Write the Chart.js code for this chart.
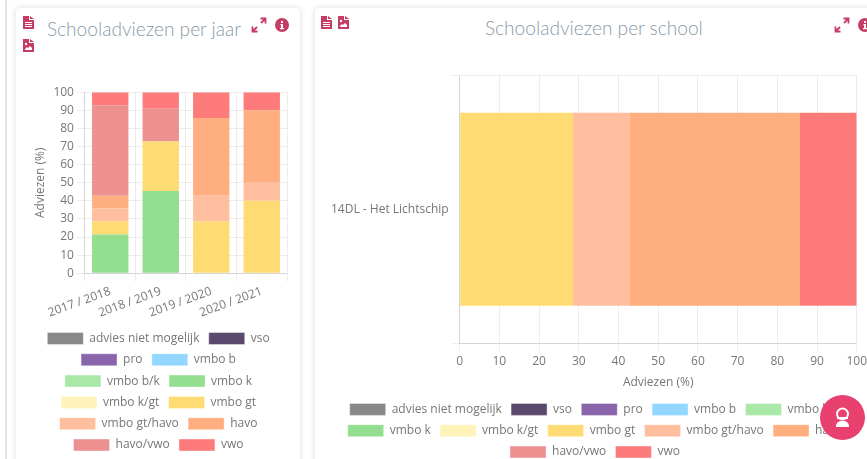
<!DOCTYPE html>
<html><head><meta charset="utf-8">
<script src="https://cdn.jsdelivr.net/npm/chart.js@4"></script>
<style>
html,body{margin:0;padding:0;background:#fff;width:867px;height:459px;overflow:hidden;font-family:"Open Sans",sans-serif}
.card{position:absolute;top:8px;height:470px;background:#fff;border-radius:4px;box-shadow:0 0 6px rgba(0,0,0,.14)}
.strip{position:absolute;left:5px;top:0;width:2px;height:459px;background:#e4e4e4}
.title{position:absolute;font-family:Lato,"Open Sans",sans-serif;font-weight:300;color:#879aa6;font-size:19.1px;white-space:nowrap}
.cv{position:absolute}
svg.ic{position:absolute;fill:#c53d64}
svg.ex{fill:none;stroke:#c53d64;stroke-width:1.8}
.fab{position:absolute;left:820px;top:395px;width:45px;height:45px;border-radius:50%;background:#e8416f}
</style></head><body>
<div class="strip"></div>
<div class="card" style="left:16px;width:284px"></div>
<div class="card" style="left:315px;width:600px"></div>
<div class="title" style="left:47px;top:17px">Schooladviezen per jaar</div>
<div class="title" style="left:485px;top:16px">Schooladviezen per school</div>
<div class="cv" style="left:30px;top:82px;width:261px;height:379px"><canvas id="c1"></canvas></div>
<div class="cv" style="left:328px;top:65px;width:542px;height:403px"><canvas id="c2"></canvas></div>

<svg class="ic" style="left:23px;top:15px" width="11" height="14" viewBox="0 0 11 14"><path d="M0 1h6v4h5v9H0z"/><path d="M7 1l4 3H7z"/><path fill="#fff" d="M2 7h7v1H2zM2 9h7v1H2zM2 11h7v1H2z"/></svg>
<svg class="ic" style="left:23px;top:38px" width="11" height="14" viewBox="0 0 11 14"><path d="M0 1h6v4h5v9H0z"/><path d="M7 1l4 3H7z"/><circle cx="3" cy="6" r="1.2" fill="#fff"/><path fill="#fff" d="M2 11l2-2 1 1 2-2 2 2v2H2z"/></svg>
<svg class="ic" style="left:321px;top:15px" width="11" height="14" viewBox="0 0 11 14"><path d="M0 1h6v4h5v9H0z"/><path d="M7 1l4 3H7z"/><path fill="#fff" d="M2 7h7v1H2zM2 9h7v1H2zM2 11h7v1H2z"/></svg>
<svg class="ic" style="left:338px;top:15px" width="11" height="14" viewBox="0 0 11 14"><path d="M0 1h6v4h5v9H0z"/><path d="M7 1l4 3H7z"/><circle cx="3" cy="6" r="1.2" fill="#fff"/><path fill="#fff" d="M2 11l2-2 1 1 2-2 2 2v2H2z"/></svg>
<svg class="ic ex" style="left:251px;top:17px" width="16" height="16" viewBox="0 0 16 16"><path d="M9.500 1.500H14.500V6.500M14.500 1.500L10 6M6.500 14.500H1.500V9.500M1.500 14.500L6 10"/></svg>
<svg class="ic ex" style="left:834px;top:17px" width="16" height="16" viewBox="0 0 16 16"><path d="M9.500 1.500H14.500V6.500M14.500 1.500L10 6M6.500 14.500H1.500V9.500M1.500 14.500L6 10"/></svg>
<svg class="ic" style="left:275px;top:18px" width="14" height="14" viewBox="0 0 14 14"><circle cx="7" cy="7" r="7"/><path fill="#fff" d="M6 3h2v2H6zM5.500 6H8v4h1v1.200H5V10h1V7.200h-.5z"/></svg>
<svg class="ic" style="left:858px;top:18px" width="14" height="14" viewBox="0 0 14 14"><circle cx="7" cy="7" r="7"/><path fill="#fff" d="M6 3h2v2H6zM5.500 6H8v4h1v1.200H5V10h1V7.200h-.5z"/></svg>
<div class="fab"><svg width="45" height="45" viewBox="0 0 45 45" style="position:absolute;left:0;top:0"><circle cx="22.5" cy="19" r="5.5" fill="none" stroke="#fff" stroke-width="2"/><path d="M17 22h11v2H17z" fill="#fff"/><path d="M16 32c0-5 3-6 6.500-6s6.500 1 6.500 6z" fill="#fff"/></svg></div>

<script>
const seriesNames = ["advies niet mogelijk","vso","pro","vmbo b","vmbo b/k","vmbo k","vmbo k/gt","vmbo gt","vmbo gt/havo","havo","havo/vwo","vwo"];
const seriesColors = ["rgb(136,136,136)","rgb(91,73,110)","rgb(138,100,170)","rgb(145,215,255)","rgb(170,232,168)","rgb(147,222,143)","rgb(255,243,185)","rgb(255,220,115)","rgb(255,190,158)","rgb(255,174,127)","rgb(236,144,144)","rgb(254,123,123)"];
const years = ["2017 / 2018","2018 / 2019","2019 / 2020","2020 / 2021"];
const yearValues = [
  [0,0,0,0],[0,0,0,0],[0,0,0,0],[0,0,0,0],[0,0,0,0],
  [21.43,45.45,0,0],
  [0,0,0,0],
  [7.14,27.27,28.57,40],
  [7.14,0,14.29,10],
  [7.14,0,42.86,40],
  [50,18.18,0,0],
  [7.15,9.10,14.28,10]
];
const schools = ["14DL - Het Lichtschip"];
const schoolValues = [0,0,0,0,0,0,0,28.57,14.29,42.86,0,14.28];

const tickColor = "#777", gridColor = "rgba(0,0,0,0.07)";
const font = {family:'"Open Sans",sans-serif', size:12};
Chart.defaults.font = font;
Chart.defaults.color = tickColor;
Chart.defaults.animation = false;

function ds(valuesFor){
  return seriesNames.map((n,i)=>({
    label:n, data:valuesFor(i), backgroundColor:seriesColors[i], borderWidth:0
  }));
}
function legendOpts(){
  return {position:"bottom", labels:{boxWidth:36, boxHeight:12, padding:9.3, color:tickColor, font:font,
    generateLabels:c=>Chart.defaults.plugins.legend.labels.generateLabels(c).map(l=>Object.assign(l,{lineWidth:1,strokeStyle:"rgba(255,255,255,0.4)"}))}};
}
function opts(extra){ return Object.assign({responsive:true, maintainAspectRatio:false, animation:false, plugins:{legend:legendOpts(), tooltip:{enabled:false}}}, extra); }

new Chart(document.getElementById("c1"),{
  type:"bar",
  data:{labels:years, datasets:ds(i=>yearValues[i])},
  options:opts({
    scales:{
      x:{stacked:true, grid:{color:gridColor}, ticks:{autoSkip:false,minRotation:20,maxRotation:20,color:tickColor,font:font,padding:3}},
      y:{stacked:true, min:0, max:100, ticks:{stepSize:10,color:tickColor,font:font},
         grid:{color:gridColor}, title:{display:true,text:"Adviezen (%)",color:tickColor,font:font,padding:{top:3,bottom:3}}}
    },
    layout:{padding:{top:3,right:4}}
  })
});
new Chart(document.getElementById("c2"),{
  type:"bar",
  data:{labels:schools, datasets:ds(i=>[schoolValues[i]])},
  options:opts({
    indexAxis:"y",
    scales:{
      x:{stacked:true, min:0, max:100, ticks:{stepSize:10,color:tickColor,font:font},
         grid:{color:gridColor}, title:{display:true,text:"Adviezen (%)",color:tickColor,font:font}},
      y:{stacked:true, grid:{color:gridColor}, ticks:{color:tickColor,font:font}}
    },
    layout:{padding:{top:8,right:8}}
  })
});
</script>
</body></html>
